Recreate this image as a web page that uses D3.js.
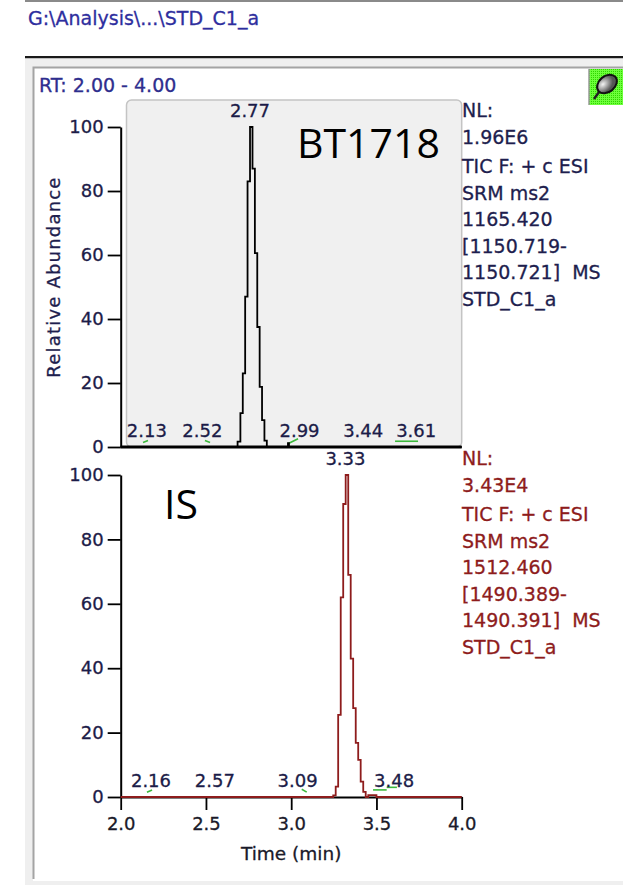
<!DOCTYPE html>
<html>
<head>
<meta charset="utf-8">
<script src="https://cdn.jsdelivr.net/npm/d3@7"></script>
<style>
body { margin: 0; background: #fff; }
svg { display: block; font-family: "DejaVu Sans", sans-serif; }
text { white-space: pre; }
</style>
</head>
<body>
<div id="chart-area"></div>
<script>

// ---- values ----
let filePath = "G:\\Analysis\\...\\STD_C1_a";
let rtLabel = "RT: 2.00 - 4.00";
let rtRange = [2.0, 4.0];
let xTicks = [2.0, 2.5, 3.0, 3.5, 4.0];
let yTicks = [0, 20, 40, 60, 80, 100];

// BT1718 chromatogram (time in min, relative abundance in %)
let topTime  = [2.00, 2.676, 2.695, 2.709, 2.723, 2.737, 2.751, 2.766, 2.780, 2.794, 2.808, 2.822, 2.836, 2.850, 2.864, 2.978, 2.984, 2.990, 4.00];
let topAbund = [0, 0, 1.7, 10.6, 23, 47, 83, 100, 87, 60.6, 37.5, 18.8, 8.4, 2, 0, 0, 1.2, 0, 0];

// IS chromatogram
let botTime  = [2.00, 3.239, 3.254, 3.268, 3.283, 3.298, 3.312, 3.327, 3.342, 3.356, 3.371, 3.386, 3.400, 3.415, 3.430, 3.444, 3.460, 3.490, 3.510, 4.00];
let botAbund = [0, 0, 0.5, 3.2, 25.5, 62, 91, 100, 69, 43, 27.6, 16.8, 11.5, 4.8, 1.6, 0, 0.6, 0.6, 0, 0];

// labelled peaks: retention time and the abundance the label sits on
let topPeakRT    = [2.13, 2.52, 2.77, 2.99, 3.44, 3.61];
let topPeakAbund = [0, 0, 100, 0, 0, 0];
let botPeakRT    = [2.16, 2.57, 3.09, 3.33, 3.48];
let botPeakAbund = [0, 0, 0, 100, 0];

// small green peak-detection marks: [t0, abund0, t1, abund1]
let topMarks = [[2.131, 1.4, 2.160, 2.0], [2.494, 2.0, 2.524, 1.4], [2.981, 1.0, 3.040, 2.6], [3.609, 1.8, 3.744, 1.8]];
let botMarks = [[2.154, 1.5, 2.184, 2.2], [3.062, 2.4, 3.091, 1.5], [3.480, 2.2, 3.560, 2.2], [3.560, 3.0, 3.620, 3.0]];

// scan header texts
let topInfo = ["NL:", "1.96E6", "TIC F: + c ESI", "SRM ms2", "1165.420", "[1150.719-", "1150.721]  MS", "STD_C1_a"];
let botInfo = ["NL:", "3.43E4", "TIC F: + c ESI", "SRM ms2", "1512.460", "[1490.389-", "1490.391]  MS", "STD_C1_a"];

let topName = "BT1718";
let botName = "IS";

// label nudges (px) so the crowded labels sit where the software put them
let topLabelShift = [4, -7, -2, 10, -3, 21];
let botLabelShift = [3, -3, -9, -2, 21];

// ---- drawing ----
let width = 623, height = 885;

let svg = d3.select("#chart-area").append("svg")
	.attr("width", width)
	.attr("height", height);

let defs = svg.append("defs");
let dots = defs.append("pattern")
	.attr("id", "dots")
	.attr("width", 2).attr("height", 2)
	.attr("patternUnits", "userSpaceOnUse");
dots.append("rect").attr("width", 2).attr("height", 2).attr("fill", "#6cff3a");
dots.append("rect").attr("width", 1).attr("height", 1).attr("fill", "#2fd400");
let pinGrad = defs.append("radialGradient").attr("id", "pin").attr("cx", "35%").attr("cy", "35%");
pinGrad.append("stop").attr("offset", "0%").attr("stop-color", "#f4f4f4");
pinGrad.append("stop").attr("offset", "100%").attr("stop-color", "#555");

// window chrome
svg.append("rect").attr("x", 25).attr("y", 0).attr("width", width - 25).attr("height", 2).attr("fill", "#8a8a8a");
svg.append("text")
	.attr("x", 28).attr("y", 25)
	.attr("font-size", 19)
	.attr("fill", "#2e2e9e")
	.attr("stroke", "#2e2e9e").attr("stroke-width", 0.3)
	.text(filePath);
svg.append("rect").attr("x", 25).attr("y", 56).attr("width", width - 25).attr("height", 2.5).attr("fill", "#1a1a1a");
svg.append("rect").attr("x", 25).attr("y", 58.5).attr("width", width - 25).attr("height", height - 58.5).attr("fill", "#efefef");
svg.append("rect").attr("x", 33).attr("y", 67).attr("width", width - 33).attr("height", 814).attr("fill", "#fff");
svg.append("path")
	.attr("d", "M33.5,879V67.5H" + width)
	.attr("fill", "none")
	.attr("stroke", "#a4a4a4")
	.attr("stroke-width", 2);

// pin icon in the corner
let icon = svg.append("g").attr("transform", "translate(589,69)");
icon.append("rect").attr("width", 34).attr("height", 36).attr("fill", "url(#dots)");
icon.append("line").attr("x1", 0).attr("x2", 0).attr("y1", 0).attr("y2", 36).attr("stroke", "#9a9a9a").attr("stroke-width", 1.5);
icon.append("path").attr("d", "M10,23 L5,30").attr("stroke", "#222").attr("stroke-width", 2.5);
icon.append("ellipse")
	.attr("cx", 18).attr("cy", 15).attr("rx", 11).attr("ry", 8)
	.attr("transform", "rotate(-40,18,15)")
	.attr("fill", "url(#pin)")
	.attr("stroke", "#111").attr("stroke-width", 2);

svg.append("text")
	.attr("x", 39).attr("y", 92)
	.attr("font-size", 19)
	.attr("fill", "#2e2e8e")
	.attr("stroke", "#2e2e8e").attr("stroke-width", 0.3)
	.text(rtLabel);

// scales
let x = d3.scaleLinear().domain(rtRange).range([120.7, 461.7]);
let yTop = d3.scaleLinear().domain([0, 100]).range([447, 127]);
let yBot = d3.scaleLinear().domain([0, 100]).range([797, 475]);

// grey plot area behind the upper trace
svg.append("rect")
	.attr("x", 126.5).attr("y", 100)
	.attr("width", x.range()[1] - 126.5).attr("height", yTop(0) - 100)
	.attr("rx", 5)
	.attr("fill", "#f0f0f0")
	.attr("stroke", "#c4c4c4")
	.attr("stroke-width", 1.5);

let tickColor = "#1c1c48";

function drawYAxis(y) {
	let g = svg.append("g").attr("transform", "translate(" + x.range()[0] + ",0)");
	g.call(d3.axisLeft(y).tickValues(d3.range(0, 101, 5)).tickSize(8).tickSizeOuter(0).tickFormat(""));
	g.call(d3.axisLeft(y).tickValues(yTicks).tickSize(13).tickSizeOuter(0).tickPadding(4));
	g.selectAll(".domain").attr("stroke", "#000").attr("stroke-width", 2);
	g.selectAll(".tick line").attr("stroke", "#000").attr("stroke-width", 1.8);
	g.selectAll(".tick text")
		.attr("font-family", "DejaVu Sans")
		.attr("font-size", 18)
		.attr("fill", tickColor)
		.attr("stroke", tickColor).attr("stroke-width", 0.3);
}

function drawPanel(y, time, abund, color, peakRT, peakAbund, shift, marks, info, name, nameX, nameY) {
	let pts = time.map((t, i) => [t, abund[i]]);

	// green detection marks
	svg.selectAll(null)
		.data(marks)
		.enter().append("line")
		.attr("x1", d => x(d[0])).attr("y1", d => y(d[1]))
		.attr("x2", d => x(d[2])).attr("y2", d => y(d[3]))
		.attr("stroke", "#3cb83c")
		.attr("stroke-width", 1.6);

	// trace
	let line = d3.line()
		.x(d => x(d[0]))
		.y(d => y(d[1]))
		.curve(d3.curveStep);
	svg.append("path")
		.datum(pts)
		.attr("d", line)
		.attr("fill", "none")
		.attr("stroke", color)
		.attr("stroke-width", 1.8)
		.attr("stroke-linejoin", "miter");

	// peak labels
	svg.selectAll(null)
		.data(peakRT)
		.enter().append("text")
		.attr("x", (d, i) => x(d) + shift[i])
		.attr("y", (d, i) => y(peakAbund[i]) - 10)
		.attr("text-anchor", "middle")
		.attr("font-size", 18)
		.attr("fill", tickColor)
		.attr("stroke", tickColor).attr("stroke-width", 0.3)
		.text(d => d.toFixed(2));

	// scan header block
	let infoColor = color === "#000" ? "#1e1e4e" : color;
	svg.selectAll(null)
		.data(info)
		.enter().append("text")
		.attr("x", 462)
		.attr("y", (d, i) => y(100) - 10 + i * 26.5 + (i >= 2 ? 3 : 0))
		.attr("font-size", 19)
		.attr("fill", infoColor)
		.attr("stroke", infoColor).attr("stroke-width", 0.3)
		.text(d => d);

	// compound name
	svg.append("text")
		.attr("x", nameX).attr("y", nameY)
		.attr("font-family", "Open Sans")
		.attr("font-size", 41)
		.attr("fill", "#000")
		.text(name);
}

// upper panel
drawYAxis(yTop);
svg.append("line")
	.attr("x1", x.range()[0]).attr("x2", x.range()[1])
	.attr("y1", yTop(0)).attr("y2", yTop(0))
	.attr("stroke", "#000").attr("stroke-width", 3);
drawPanel(yTop, topTime, topAbund, "#000", topPeakRT, topPeakAbund, topLabelShift, topMarks, topInfo, topName, 297, 158);

// lower panel
drawYAxis(yBot);
let xg = svg.append("g").attr("transform", "translate(0," + yBot(0) + ")");
xg.call(d3.axisBottom(x).tickValues(d3.range(2, 4.01, 0.1)).tickSize(6).tickSizeOuter(0).tickFormat(""));
xg.call(d3.axisBottom(x).tickValues(xTicks).tickSize(13).tickSizeOuter(0).tickPadding(7).tickFormat(d3.format(".1f")));
xg.selectAll(".domain").attr("stroke", "#000").attr("stroke-width", 2);
xg.selectAll(".tick line").attr("stroke", "#000").attr("stroke-width", 1.8);
xg.selectAll(".tick text")
	.attr("font-family", "DejaVu Sans")
	.attr("font-size", 18)
	.attr("fill", "#1a1a2a")
	.attr("stroke", "#1a1a2a").attr("stroke-width", 0.3);
drawPanel(yBot, botTime, botAbund, "#8e1c1c", botPeakRT, botPeakAbund, botLabelShift, botMarks, botInfo, botName, 164, 519);

// axis titles
svg.append("text")
	.attr("transform", "translate(60," + (yTop(50) - 10) + ") rotate(-90)")
	.attr("text-anchor", "middle")
	.attr("font-size", 18)
	.attr("letter-spacing", 1.2)
	.attr("fill", "#1e1e4e")
	.attr("stroke", "#1e1e4e").attr("stroke-width", 0.3)
	.text("Relative Abundance");

svg.append("text")
	.attr("x", (x.range()[0] + x.range()[1]) / 2)
	.attr("y", 860)
	.attr("text-anchor", "middle")
	.attr("font-size", 18.5)
	.attr("fill", "#1a1a2a")
	.attr("stroke", "#1a1a2a").attr("stroke-width", 0.3)
	.text("Time (min)");

</script>
</body>
</html>
